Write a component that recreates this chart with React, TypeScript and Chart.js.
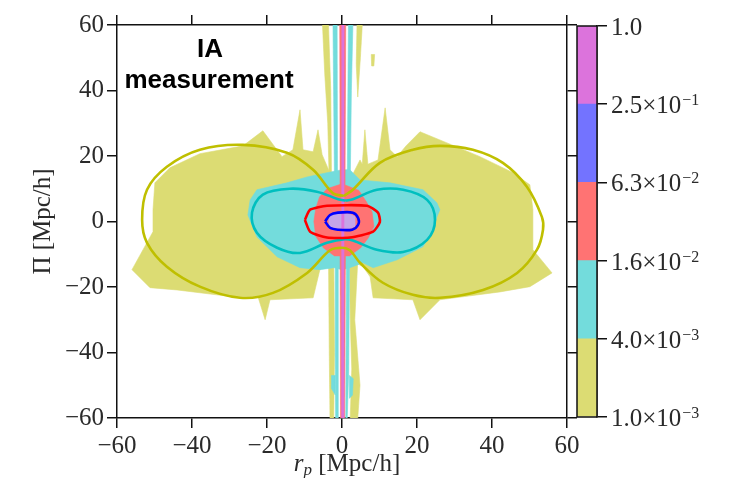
import React, { useEffect, useRef } from "react";
import { Chart, registerables } from "chart.js";

Chart.register(...registerables);

type P = [number, number];

// ---------- axes / colour bar ----------
const AXIS_MIN = -60;
const AXIS_MAX = 60;
const AXIS_STEP = 20;
const LEVEL_MANTISSA = ["1.0", "4.0", "1.6", "6.3", "2.5", "1.0"];
const LEVEL_EXPONENT = ["−3", "−3", "−2", "−2", "−1", ""];
const BAND_COLORS = ["#dcdc73", "#73dcdc", "#ff7373", "#7373ff", "#dc73dc"];
const LINE_COLORS = ["#bfbf00", "#00bfbf", "#ff0000", "#0000ff"];

// ---------- measured (filled) contours: [r_p, Pi] ----------
const oliveBody: P[] = [
  [0, 11.2], [2.1, 12.7], [4.8, 18.8], [5.4, 17.5], [6.1, 28], [6.9, 17.5], [9.6, 18.8],
  [11.5, 34.7], [12.8, 21.9], [14.7, 19.8], [17, 23], [20.8, 27.4], [28, 24], [36.8, 19.8],
  [45.6, 14.9], [50.1, 11.2], [50.9, 3.6], [50.9, -8.6], [56, -15.7], [50.1, -19.9],
  [42.1, -21.5], [26.1, -23.9], [20.8, -30], [18.9, -23.9], [8.3, -23.3], [7.5, -16.9],
  [5.6, -13.8], [2.1, -11.7], [0, -11.7], [-2.1, -11.7], [-5.9, -14.7], [-7.7, -23.3],
  [-19.2, -23.9], [-20.5, -30], [-22.4, -23], [-29.1, -23], [-44, -20.9], [-51.2, -20.2],
  [-56, -14.7], [-50.4, -3.1], [-50.4, 3.6], [-49.9, 11.8], [-45.9, 16.4], [-37.9, 20.7],
  [-26.4, 23.1], [-21.1, 27.7], [-16, 19.8], [-13.1, 21.9], [-11.2, 34.1], [-10.4, 21.9],
  [-7.7, 21.3], [-6.4, 28], [-5.3, 20.4], [-2.4, 12.7],
];
const oliveTopLeft: P[] = [[-5.2, 60], [-3.6, 60], [-3.0, 40], [-2.8, 12], [-3.4, 12], [-3.8, 30], [-4.6, 45]];
const oliveTopRight: P[] = [[4, 60], [5.4, 60], [4.9, 50], [4.2, 38], [3.8, 48]];
const oliveBottomLeft: P[] = [[-3.6, -10], [-2.2, -10], [-2.0, -40], [-2.2, -60], [-3.2, -60], [-3.4, -40]];
const oliveBottomRight: P[] = [[2.0, -12], [4.2, -12], [3.4, -30], [4.8, -50], [4.2, -60], [2.2, -60], [2.6, -45], [2.2, -30]];
const oliveBlob: P[] = [[7.8, 51], [8.7, 51], [8.5, 47.5], [7.9, 47.5]];

const cyanBody: P[] = [
  [0, 15.8], [2.1, 15.8], [4.8, 12.7], [12.8, 11.8], [21.6, 9.7], [25.3, 5.7], [26.1, 3.6],
  [25.3, 1.4], [24.3, -2.5], [21.6, -7.7], [14.7, -11.7], [8.3, -14.1], [5.6, -12.6],
  [2.1, -14.1], [0, -14.7], [-2.1, -14.1], [-5.9, -14.7], [-11.2, -14.1], [-17.3, -10.8],
  [-22.7, -4.7], [-25.1, 2], [-24.5, 6.6], [-22.7, 9.7], [-14.7, 11.8], [-9.3, 13.6], [-4, 14.9],
];
const cyanTopLeft: P[] = [[-2.4, 60], [-1.3, 60], [-1.2, 12], [-2.0, 12], [-2.2, 35]];
const cyanTopRight: P[] = [[1.7, 60], [2.9, 60], [2.5, 40], [2.2, 12], [1.4, 12]];
const cyanBottomLeft: P[] = [[-1.8, -12], [-1.0, -12], [-1.0, -60], [-1.7, -60], [-1.8, -40]];
const cyanBottomRight: P[] = [[1.2, -12], [2.0, -12], [1.8, -45], [1.4, -60], [1.0, -60]];
const cyanBottomPatchL: P[] = [[-2.8, -47], [-1.8, -47], [-1.8, -53], [-2.8, -51]];
const cyanBottomPatchR: P[] = [[2.0, -47], [3.0, -48], [2.8, -53], [2.0, -54]];

const redBody: P[] = [
  [-4, 10], [0, 11.5], [4.5, 9.5], [6.5, 6], [8, 3], [8.5, -1.5], [7, -5], [5, -8],
  [2, -10.5], [-2, -10.5], [-5, -8], [-7, -4.5], [-7.5, 0], [-7, 4], [-6, 7.5],
];
const redTop: P[] = [[-0.6, 60], [1.0, 60], [0.8, 10], [-0.5, 10]];
const redBottom: P[] = [[-0.5, -10], [0.9, -10], [0.7, -60], [-0.4, -60]];

const blueBody: P[] = [[-3.5, 1.5], [-2, 2.3], [2, 2.3], [3.5, 1.5], [3.5, -1.5], [2, -2.2], [-2, -2.2], [-3.5, -1.5]];

const magentaColumn: P[] = [[-0.05, 60], [0.55, 60], [0.5, -60], [-0.1, -60]];

// ---------- model contour lines ----------
const oliveLine: P[] = [
  [0.5, 7.8], [2.9, 9.7], [10.1, 17.9], [18.9, 21.9], [26.1, 23.1], [34.9, 21.9], [42.9, 17.9],
  [49.3, 10.6], [53.3, 1.4], [53.6, -2.5], [52, -8.6], [46.7, -15.7], [37.6, -20.9],
  [26.1, -23.3], [18.9, -22.4], [10.9, -18.7], [4.8, -12.6], [2.1, -8.8], [0, -8],
  [-3.2, -8.8], [-9.3, -15.7], [-18.4, -21.8], [-27.2, -23.3], [-37.9, -19.9], [-46.7, -13.8],
  [-52, -6.5], [-53.3, 0.5], [-52, 9.7], [-46.7, 16.7], [-37.9, 21.9], [-26.4, 23.4],
  [-14.7, 21], [-7.7, 15.8], [-2.4, 8.6],
];
const cyanLine: P[] = [
  [1, 6.4], [2.9, 6.8], [9.3, 9.7], [16.3, 9.7], [22.7, 6.6], [24.8, 0.5], [22.7, -5.6],
  [16.3, -9.3], [9.3, -8.6], [2.9, -5.8], [0.8, -5.4], [-4, -6.5], [-11.2, -9.6], [-17.3, -8],
  [-22.7, -3.4], [-24, 2.7], [-21.1, 8.2], [-13.9, 10], [-6.7, 9.1], [-1, 6.8],
];
const redLine: P[] = [
  [-9.9, 0.5], [-8.5, 3.6], [-4, 4.8], [6.7, 4.8], [9.6, 2.7], [10.1, -0.1], [8.3, -3.1],
  [2.1, -4.9], [-4, -4.9], [-8.5, -3.1],
];
const blueLine: P[] = [
  [-4.5, 0], [-3.2, 2], [-1.1, 2.7], [2.9, 2.7], [4.3, 1.1], [4.3, -1], [2.7, -2.5],
  [-1.1, -2.5], [-3.2, -1.9],
];

const SERIF = '"Liberation Serif", "Times New Roman", serif';
const SANS = '"Liberation Sans", Arial, sans-serif';
const TEXT_COLOR = "#2a2a2a";
const AXIS_COLOR = "#111";

const toXY = (pts: P[]) => pts.map(([x, y]) => ({ x, y }));

const polyDs = (label: string, pts: P[], color: string, order: number) => ({
  label,
  data: toXY(pts),
  showLine: false,
  pointRadius: 0,
  pointHoverRadius: 0,
  polyFill: color,
  order,
});

const lineDs = (label: string, pts: P[], color: string, tension: number) => ({
  label,
  data: toXY([...pts, pts[0]]),
  showLine: true,
  fill: false,
  borderColor: color,
  borderWidth: 2.6,
  borderJoinStyle: "round",
  pointRadius: 0,
  pointHoverRadius: 0,
  tension,
  order: 0,
});

const polyPlugin = {
  id: "polyFill",
  beforeDatasetDraw(chart: any, args: any) {
    const ds = chart.data.datasets[args.index];
    if (!ds.polyFill) return;
    const pts = args.meta.data;
    const { ctx, chartArea: a } = chart;
    ctx.save();
    ctx.beginPath();
    ctx.rect(a.left, a.top, a.right - a.left, a.bottom - a.top);
    ctx.clip();
    ctx.beginPath();
    pts.forEach((p: any, i: number) => (i ? ctx.lineTo(p.x, p.y) : ctx.moveTo(p.x, p.y)));
    ctx.closePath();
    ctx.fillStyle = ds.polyFill;
    ctx.fill();
    ctx.strokeStyle = ds.polyFill;
    ctx.lineWidth = 0.6;
    ctx.stroke();
    ctx.restore();
  },
};

const textPlugin = {
  id: "mainText",
  afterDraw(chart: any) {
    const { ctx, chartArea: a } = chart;
    ctx.save();
    ctx.fillStyle = "#000";
    ctx.textAlign = "center";
    ctx.textBaseline = "alphabetic";
    ctx.font = `bold 26px ${SANS}`;
    ctx.fillText("IA", 210, 57);
    ctx.fillText("measurement", 209, 88);
    const cx = (a.left + a.right) / 2 + 5;
    const base = 471;
    ctx.fillStyle = TEXT_COLOR;
    ctx.textAlign = "left";
    ctx.font = `italic 25px ${SERIF}`;
    const wr = ctx.measureText("r").width;
    ctx.font = `italic 17px ${SERIF}`;
    const wp = ctx.measureText("p").width;
    ctx.font = `25px ${SERIF}`;
    const rest = " [Mpc/h]";
    const wrest = ctx.measureText(rest).width;
    let x = cx - (wr + wp + wrest) / 2;
    ctx.font = `italic 25px ${SERIF}`;
    ctx.fillText("r", x, base);
    x += wr;
    ctx.font = `italic 17px ${SERIF}`;
    ctx.fillText("p", x, base + 4);
    x += wp;
    ctx.font = `25px ${SERIF}`;
    ctx.fillText(rest, x, base);
    ctx.restore();
  },
};

const cbarPlugin = {
  id: "cbarText",
  afterDraw(chart: any) {
    const { ctx, chartArea: a } = chart;
    const scale = chart.scales.y;
    ctx.save();
    ctx.strokeStyle = AXIS_COLOR;
    ctx.lineWidth = 1.5;
    ctx.strokeRect(a.left, a.top, a.right - a.left, a.bottom - a.top);
    ctx.fillStyle = TEXT_COLOR;
    ctx.textAlign = "left";
    ctx.textBaseline = "alphabetic";
    LEVEL_MANTISSA.forEach((m, i) => {
      const y = scale.getPixelForValue(i);
      const base = y + 9;
      let x = a.right + 14;
      ctx.font = `25px ${SERIF}`;
      const main = LEVEL_EXPONENT[i] ? `${m}×10` : m;
      ctx.fillText(main, x, base);
      x += ctx.measureText(main).width + 1;
      if (LEVEL_EXPONENT[i]) {
        ctx.font = `16px ${SERIF}`;
        ctx.fillText(LEVEL_EXPONENT[i], x, base - 8);
      }
    });
    ctx.restore();
  },
};

const tickFmt = (v: any) => String(v).replace("-", "−");

export default function App() {
  const mainRef = useRef<HTMLCanvasElement>(null);
  const barRef = useRef<HTMLCanvasElement>(null);

  useEffect(() => {
    const grid = { drawOnChartArea: false, tickLength: 10, color: AXIS_COLOR, lineWidth: 1.5 };
    const border = { display: true, color: AXIS_COLOR, width: 1.5 };
    const tickFont = { family: SERIF, size: 25 };

    const datasets: any[] = [
      lineDs("model 6.3e-2", blueLine, LINE_COLORS[3], 0.3),
      lineDs("model 1.6e-2", redLine, LINE_COLORS[2], 0.2),
      lineDs("model 4.0e-3", cyanLine, LINE_COLORS[1], 0.35),
      lineDs("model 1.0e-3", oliveLine, LINE_COLORS[0], 0.35),
      polyDs("m >2.5e-1", magentaColumn, BAND_COLORS[4], 5),
      polyDs("b body", blueBody, "rgba(190,170,245,0.9)", 6),
      polyDs("r body", redBody, BAND_COLORS[2], 7),
      polyDs("r top", redTop, BAND_COLORS[2], 7),
      polyDs("r bottom", redBottom, BAND_COLORS[2], 7),
      polyDs("c body", cyanBody, BAND_COLORS[1], 8),
      polyDs("c tl", cyanTopLeft, BAND_COLORS[1], 8),
      polyDs("c tr", cyanTopRight, BAND_COLORS[1], 8),
      polyDs("c bl", cyanBottomLeft, BAND_COLORS[1], 8),
      polyDs("c br", cyanBottomRight, BAND_COLORS[1], 8),
      polyDs("c pl", cyanBottomPatchL, BAND_COLORS[1], 8),
      polyDs("c pr", cyanBottomPatchR, BAND_COLORS[1], 8),
      polyDs("y body", oliveBody, BAND_COLORS[0], 10),
      polyDs("y tl", oliveTopLeft, BAND_COLORS[0], 10),
      polyDs("y tr", oliveTopRight, BAND_COLORS[0], 10),
      polyDs("y bl", oliveBottomLeft, BAND_COLORS[0], 10),
      polyDs("y br", oliveBottomRight, BAND_COLORS[0], 10),
      polyDs("y blob", oliveBlob, BAND_COLORS[0], 10),
    ];

    const main = new Chart(mainRef.current as HTMLCanvasElement, {
      type: "scatter",
      data: { datasets },
      options: {
        animation: false,
        responsive: false,
        devicePixelRatio: 1,
        events: [],
        layout: { padding: { left: 0, right: 162, top: 15, bottom: 0 } },
        plugins: { legend: { display: false }, tooltip: { enabled: false } },
        scales: {
          x: {
            type: "linear",
            position: "bottom",
            min: AXIS_MIN,
            max: AXIS_MAX,
            ticks: { stepSize: AXIS_STEP, font: tickFont, color: TEXT_COLOR, padding: 3, callback: tickFmt, maxRotation: 0 },
            grid,
            border,
            afterFit: (s: any) => { s.height = 60; },
          },
          x2: {
            type: "linear",
            position: "top",
            min: AXIS_MIN,
            max: AXIS_MAX,
            ticks: { stepSize: AXIS_STEP, display: false },
            grid,
            border,
            afterFit: (s: any) => { s.height = 10; },
          },
          y: {
            type: "linear",
            position: "left",
            min: AXIS_MIN,
            max: AXIS_MAX,
            ticks: { stepSize: AXIS_STEP, font: tickFont, color: TEXT_COLOR, padding: 3, callback: tickFmt },
            grid,
            border,
            title: { display: true, text: "Π [Mpc/h]", font: { family: SERIF, size: 25 }, color: TEXT_COLOR, padding: { top: 28, bottom: 0 } },
            afterFit: (s: any) => { s.width = 117; },
          },
          y2: {
            type: "linear",
            position: "right",
            min: AXIS_MIN,
            max: AXIS_MAX,
            ticks: { stepSize: AXIS_STEP, display: false },
            grid,
            border,
            afterFit: (s: any) => { s.width = 10; },
          },
        },
      } as any,
      plugins: [polyPlugin, textPlugin],
    });

    const bar = new Chart(barRef.current as HTMLCanvasElement, {
      type: "bar",
      data: {
        labels: [""],
        datasets: BAND_COLORS.map((c, i) => ({
          label: `band ${i}`,
          data: [1],
          backgroundColor: c,
          borderWidth: 0,
          barPercentage: 1,
          categoryPercentage: 1,
        })),
      },
      options: {
        animation: false,
        responsive: false,
        devicePixelRatio: 1,
        events: [],
        layout: { padding: { left: 17, top: 26, bottom: 61, right: 0 } },
        plugins: { legend: { display: false }, tooltip: { enabled: false } },
        scales: {
          x: { stacked: true, display: false },
          y: {
            stacked: true,
            position: "right",
            min: 0,
            max: 5,
            ticks: { stepSize: 1, display: false },
            grid,
            border,
            afterFit: (s: any) => { s.width = 142; },
          },
        },
      } as any,
      plugins: [cbarPlugin],
    });

    return () => {
      main.destroy();
      bar.destroy();
    };
  }, []);

  return (
    <div style={{ position: "fixed", left: 0, top: 0, width: 739, height: 478, background: "#fff" }}>
      <canvas ref={mainRef} width={739} height={478} style={{ position: "absolute", left: 0, top: 0 }} />
      <canvas ref={barRef} width={179} height={478} style={{ position: "absolute", left: 560, top: 0 }} />
    </div>
  );
}
